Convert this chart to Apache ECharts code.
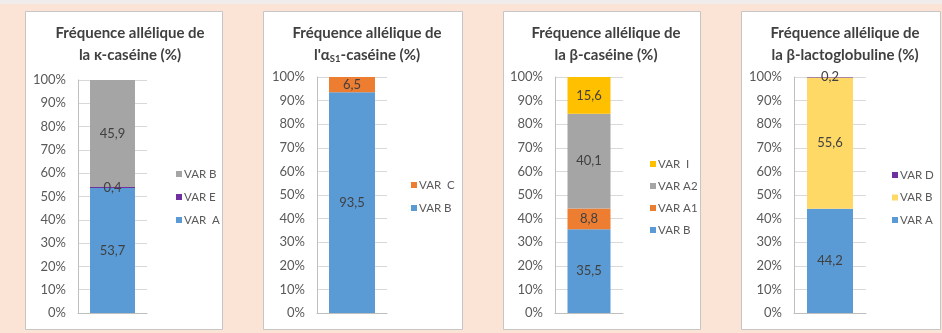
<!DOCTYPE html>
<html>
<head>
<meta charset="utf-8">
<script src="https://cdn.jsdelivr.net/npm/echarts@6/dist/echarts.min.js"></script>
<style>
  html, body { margin: 0; padding: 0; background: #fbe3d6; }
  #chart { width: 942px; height: 333px; }
</style>
</head>
<body>
<div id="chart"></div>
<script>
// Allele frequencies (%) for the four milk proteins, listed bottom-to-top of each stacked bar
const kappaAlleles = ['VAR  A', 'VAR E', 'VAR B'];
const kappaFreq = [53.7, 0.4, 45.9];

const alphaAlleles = ['VAR B', 'VAR  C'];
const alphaFreq = [93.5, 6.5];

const betaAlleles = ['VAR B', 'VAR A1', 'VAR A2', 'VAR  I'];
const betaFreq = [35.5, 8.8, 40.1, 15.6];

const lactoAlleles = ['VAR A', 'VAR B', 'VAR D'];
const lactoFreq = [44.2, 55.6, 0.2];

const yTickStep = 10;

const FONT = 'Lato, "Open Sans", sans-serif';
const TEXT = '#595959';

// Per-panel layout: frame, plot area, bar, colours, title, legend
const panels = [
  {
    key: 'k', alleles: kappaAlleles, freq: kappaFreq,
    colors: ['#5b9bd5', '#7030a0', '#a5a5a5'],
    frame: [25.5, 11.5, 197, 318],
    grid: { left: 78, top: 80, width: 69, height: 233 }, bar: 45,
    title: 'Fréquence allélique de\nla κ-caséine (%)', titleX: 125,
    legend: { left: 171, top: 163, gap: 11 }
  },
  {
    key: 'a', alleles: alphaAlleles, freq: alphaFreq,
    colors: ['#5b9bd5', '#ed7d31'],
    frame: [263.5, 11.5, 199, 318],
    grid: { left: 317, top: 77, width: 70, height: 236 }, bar: 46,
    title: "Fréquence allélique de\nl'α{sub|S1}-caséine (%)", titleX: 362,
    legend: { left: 406, top: 174, gap: 11 }
  },
  {
    key: 'b', alleles: betaAlleles, freq: betaFreq,
    colors: ['#5b9bd5', '#ed7d31', '#a5a5a5', '#ffc000'],
    frame: [503.5, 11.5, 197, 318],
    grid: { left: 555, top: 77, width: 68, height: 236 }, bar: 43,
    title: 'Fréquence allélique de\nla β-caséine (%)', titleX: 601,
    legend: { left: 645, top: 153, gap: 10 }
  },
  {
    key: 'l', alleles: lactoAlleles, freq: lactoFreq,
    colors: ['#5b9bd5', '#ffd966', '#7030a0'],
    frame: [741.5, 11.5, 199, 318],
    grid: { left: 794, top: 77, width: 72, height: 236 }, bar: 46,
    title: 'Fréquence allélique de\nla β-lactoglobuline (%)', titleX: 840,
    legend: { left: 887, top: 164, gap: 10.5 }
  }
];

const fmtComma = v => String(v).replace('.', ',');

const grids = [], xAxes = [], yAxes = [], series = [], titles = [], legends = [], frames = [];

panels.forEach((p, i) => {
  grids.push(Object.assign({ containLabel: false }, p.grid));

  xAxes.push({
    type: 'category', gridIndex: i, data: [''],
    axisLine: { show: true, lineStyle: { color: '#bfbfbf', width: 1 } },
    axisTick: { show: false }, axisLabel: { show: false }
  });

  yAxes.push({
    type: 'value', gridIndex: i, min: 0, max: 100, interval: yTickStep,
    axisLine: { show: true, lineStyle: { color: '#bfbfbf', width: 1 } },
    axisTick: { show: false },
    splitLine: { show: true, lineStyle: { color: '#d9d9d9', width: 1 } },
    axisLabel: { formatter: '{value}%', color: TEXT, fontFamily: FONT, fontSize: 13, margin: 12 }
  });

  p.alleles.forEach((name, j) => {
    series.push({
      type: 'bar', name: p.key + ':' + name,
      xAxisIndex: i, yAxisIndex: i, stack: 'panel' + i,
      barWidth: p.bar,
      data: [p.freq[j]],
      itemStyle: { color: p.colors[j] },
      label: {
        show: true, position: 'inside', color: '#404040',
        fontFamily: FONT, fontSize: 13,
        formatter: d => fmtComma(d.value)
      },
      emphasis: { disabled: true },
      animation: false
    });
  });

  titles.push({
    text: p.title, left: p.titleX, top: 17, textAlign: 'center',
    textStyle: {
      fontFamily: FONT, fontSize: 15, fontWeight: 'bold', color: '#404040', lineHeight: 22,
      rich: {
        sub: { fontFamily: FONT, fontSize: 9.5, fontWeight: 'bold', color: '#404040', padding: [7, 0, 0, 0] }
      }
    }
  });

  legends.push({
    orient: 'vertical', left: p.legend.left, top: p.legend.top,
    data: p.alleles.map(n => p.key + ':' + n).reverse(),
    formatter: n => n.slice(n.indexOf(':') + 1),
    icon: 'rect', itemWidth: 6, itemHeight: 6, itemGap: p.legend.gap,
    selectedMode: false,
    textStyle: { color: TEXT, fontFamily: FONT, fontSize: 11.5, padding: [0, 0, 0, -3] }
  });

  frames.push({
    type: 'rect', z: -10,
    shape: { x: p.frame[0], y: p.frame[1], width: p.frame[2], height: p.frame[3] },
    style: { fill: '#ffffff', stroke: '#c6c6c6', lineWidth: 1 }
  });
});

// Pale strip along the top edge of the page
frames.push({
  type: 'rect', z: -11,
  shape: { x: 0, y: 0, width: 942, height: 4 },
  style: { fill: '#efeceb' }
});

const chart = echarts.init(document.getElementById('chart'), null, { renderer: 'canvas' });
chart.setOption({
  backgroundColor: '#fbe3d6',
  animation: false,
  title: titles,
  legend: legends,
  grid: grids,
  xAxis: xAxes,
  yAxis: yAxes,
  series: series,
  graphic: { elements: frames }
});
</script>
</body>
</html>
